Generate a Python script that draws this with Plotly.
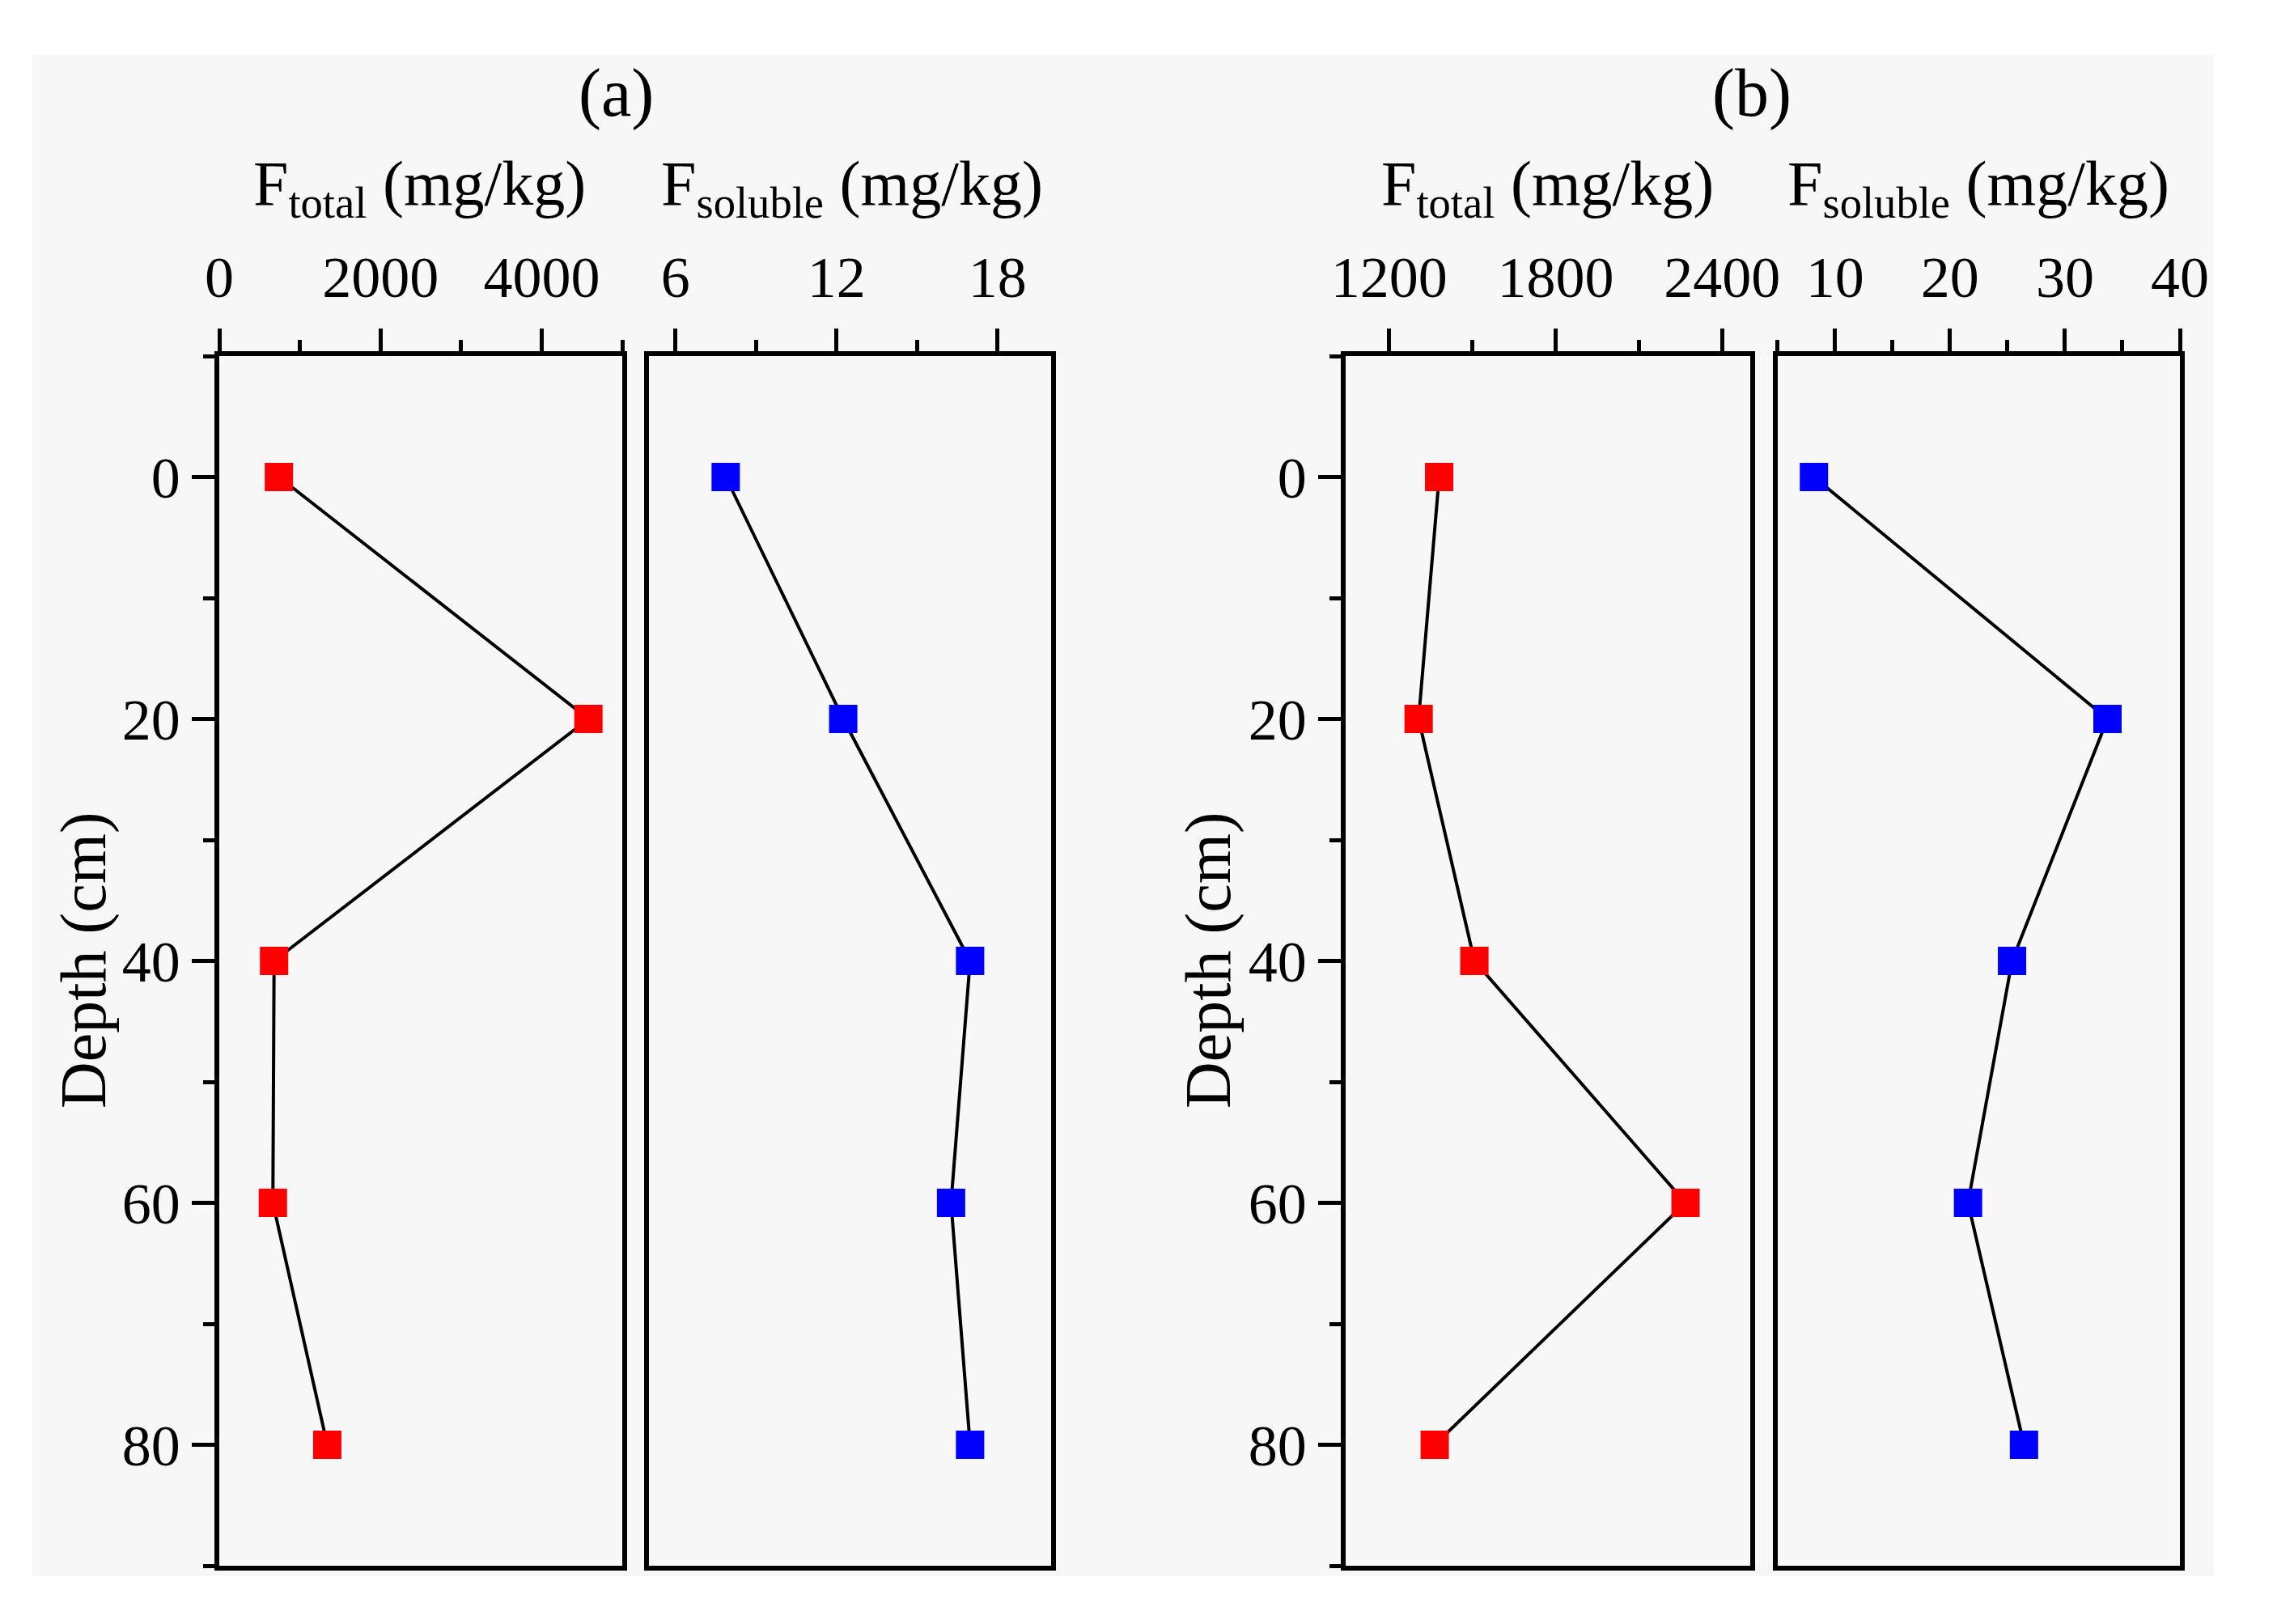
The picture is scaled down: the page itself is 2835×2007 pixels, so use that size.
import plotly.graph_objects as go

# ---------------- data ----------------
depth = [0, 20, 40, 60, 80]
a_total = [740, 4580, 680, 665, 1340]
a_soluble = [7.87, 12.25, 16.98, 16.27, 16.98]
b_total = [1380, 1306, 1507, 2268, 1364]
b_soluble = [8.17, 33.7, 25.4, 21.57, 26.44]

W, H = 2835, 2007
OFF = 8  # page body margin compensation
FONT = "Liberation Serif"
FS = 72

def px_x(p):
    return (p - OFF) / W

def px_y(p):
    return 1 - (p - OFF) / H

y_dom = [px_y(1935), px_y(440)]
doms = {
    "x": [px_x(271), px_x(769)],
    "x2": [px_x(801.7), px_x(1299)],
    "x3": [px_x(1663), px_x(2162.6)],
    "x4": [px_x(2196.7), px_x(2694)],
}

fig = go.Figure()

def add(x, yv, xa, ya, color):
    fig.add_trace(go.Scatter(
        x=x, y=yv, xaxis=xa, yaxis=ya, mode="lines+markers",
        line=dict(color="black", width=4),
        marker=dict(symbol="square", size=35, color=color, line=dict(width=0)),
        showlegend=False, cliponaxis=False))

add(a_total, depth, "x", "y", "#ff0000")
add(a_soluble, depth, "x2", "y2", "#0000ff")
add(b_total, depth, "x3", "y3", "#ff0000")
add(b_soluble, depth, "x4", "y4", "#0000ff")

tickfont = dict(family=FONT, size=FS, color="black")

def xaxis(dom, anchor, rng, tick0, dtick, mdtick):
    return dict(domain=dom, anchor=anchor, range=rng, side="top",
                tick0=tick0, dtick=dtick, ticks="outside", ticklen=28,
                tickwidth=4.5, tickcolor="black", ticklabelstandoff=10,
                minor=dict(tick0=tick0, dtick=mdtick, ticks="outside", ticklen=14,
                           tickwidth=4.5, tickcolor="black", showgrid=False),
                showline=True, linewidth=5.5, linecolor="black", mirror=True,
                showgrid=False, zeroline=False, tickfont=tickfont,
                fixedrange=True, automargin=False)

def yaxis(anchor, labels):
    d = dict(domain=y_dom, anchor=anchor, range=[90, -10],
             showline=True, linewidth=5.5, linecolor="black", mirror=True,
             showgrid=False, zeroline=False, fixedrange=True, automargin=False)
    if labels:
        d.update(tick0=0, dtick=20, ticks="outside", ticklen=28, tickwidth=4.5,
                 tickcolor="black", tickfont=tickfont,
                 minor=dict(tick0=0, dtick=10, ticks="outside", ticklen=14,
                            tickwidth=4.5, tickcolor="black", showgrid=False))
    else:
        d.update(showticklabels=False, ticks="")
    return d

fig.update_layout(
    width=W, height=H, autosize=False,
    margin=dict(l=0, r=0, t=0, b=0, autoexpand=False),
    paper_bgcolor="white",
    plot_bgcolor="rgba(0,0,0,0)",
    font=dict(family=FONT, size=FS, color="black"),
    xaxis=xaxis(doms["x"], "y", [0, 5000], 0, 2000, 1000),
    xaxis2=xaxis(doms["x2"], "y2", [5, 20], 6, 6, 3),
    xaxis3=xaxis(doms["x3"], "y3", [1043, 2500], 1200, 600, 300),
    xaxis4=xaxis(doms["x4"], "y4", [5, 40], 10, 10, 5),
    yaxis=yaxis("x", True),
    yaxis2=yaxis("x2", False),
    yaxis3=yaxis("x3", True),
    yaxis4=yaxis("x4", False),
    shapes=[dict(type="rect", xref="paper", yref="paper",
                 x0=px_x(40), x1=px_x(2736), y0=px_y(1948), y1=px_y(68),
                 fillcolor="#f7f7f7", line=dict(width=0), layer="below")],
)

ann = []
def text(t, x, y, angle=0, size=FS):
    ann.append(dict(text=t, x=px_x(x), y=px_y(y), xref="paper", yref="paper",
                    showarrow=False, xanchor="center", yanchor="middle",
                    textangle=angle, font=dict(family=FONT, size=size, color="black")))

text("(a)", 761, 115, size=84)
text("(b)", 2165, 115, size=84)
text("F<sub>total</sub> (mg/kg)", 518, 232, size=78)
text("F<sub>soluble</sub> (mg/kg)", 1053, 232, size=78)
text("F<sub>total</sub> (mg/kg)", 1912, 232, size=78)
text("F<sub>soluble</sub> (mg/kg)", 2445, 232, size=78)
text("Depth (cm)", 103, 1187, angle=-90, size=80)
text("Depth (cm)", 1493, 1187, angle=-90, size=80)
fig.update_layout(annotations=ann)

fig.write_html("out.html")
